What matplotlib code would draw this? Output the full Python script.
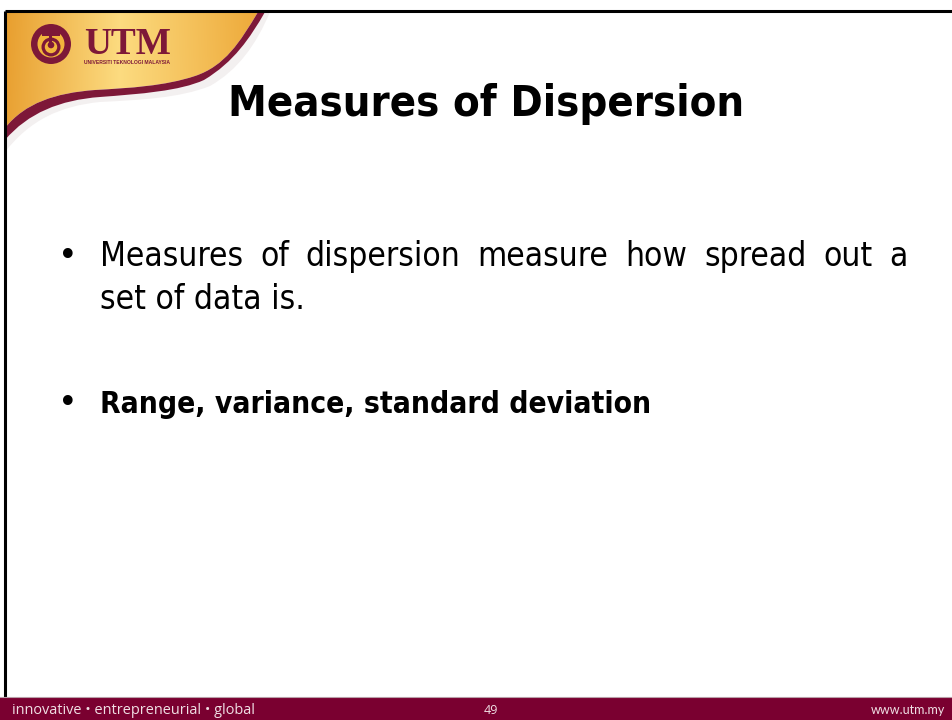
import matplotlib
matplotlib.use("Agg")
import matplotlib.pyplot as plt
import numpy as np
from matplotlib.path import Path
from matplotlib.patches import PathPatch, Rectangle, Circle
from matplotlib import font_manager

# ---- content ----
title = "Measures of Dispersion"
bullet1_lines = ["Measures of dispersion measure how spread out a", "set of data is."]
bullet2 = "Range, variance, standard deviation"
footer_left = "innovative \u2022 entrepreneurial \u2022 global"
footer_mid = "49"
footer_right = "www.utm.my"
logo_text = "UTM"
logo_sub = "UNIVERSITI TEKNOLOGI MALAYSIA"

MAROON = "#7a0030"
LOGO_MAROON = "#7d1838"

cands = [f for f in font_manager.fontManager.ttflist
         if ("narrow" in f.name.lower() or "condensed" in f.name.lower()
             or "narrow" in f.fname.lower() or "condensed" in f.fname.lower())
         and "mono" not in f.name.lower() and "serif" not in f.name.lower()]
if cands:
    c0 = cands[0]
    body_prop = dict(family=c0.name, stretch=c0.stretch)
else:
    body_prop = dict(family="Liberation Sans")

W, H = 953, 720
fig = plt.figure(figsize=(W / 100, H / 100), dpi=100)
ax = fig.add_axes([0, 0, 1, 1])
ax.set_xlim(0, W)
ax.set_ylim(H, 0)
ax.axis("off")
fig.patch.set_facecolor("white")

# ---- gold swoosh with gradient ----
gold_verts = [(5, 12), (258, 12),
              (240, 42), (225, 66), (195, 76),
              (165, 86), (130, 88), (95, 90),
              (55, 93), (25, 103), (5, 128),
              (5, 12)]
gold_codes = [Path.MOVETO, Path.LINETO,
              Path.CURVE4, Path.CURVE4, Path.CURVE4,
              Path.CURVE4, Path.CURVE4, Path.CURVE4,
              Path.CURVE4, Path.CURVE4, Path.CURVE4,
              Path.CLOSEPOLY]
gold_path = Path(gold_verts, gold_codes)
clip = PathPatch(gold_path, facecolor="none", edgecolor="none", transform=ax.transData)
ax.add_patch(clip)

xs = np.linspace(0, 1, 300)
c_left = np.array([0.91, 0.62, 0.18])
c_mid = np.array([0.99, 0.86, 0.50])
c_right = np.array([0.93, 0.66, 0.22])
row = np.where(xs[:, None] < 0.45,
               c_left + (c_mid - c_left) * np.clip(xs[:, None] / 0.45, 0, 1),
               c_mid + (c_right - c_mid) * np.clip((xs[:, None] - 0.45) / 0.55, 0, 1))
ys = np.linspace(0, 1, 150)
img = row[None, :, :] * (1 - 0.05 * ys[:, None, None]) + 0.05 * ys[:, None, None] * np.array([0.98, 0.88, 0.6])
im = ax.imshow(np.clip(img, 0, 1), extent=[5, 260, 135, 12], aspect="auto", zorder=1, interpolation="bilinear")
im.set_clip_path(clip)

# ---- maroon band below swoosh ----
band_verts = [(258, 12),
              (240, 42), (225, 66), (195, 76),
              (165, 86), (130, 88), (95, 90),
              (55, 93), (25, 103), (5, 128),
              (5, 140),
              (28, 113), (60, 100), (100, 97),
              (140, 94), (180, 91), (204, 80),
              (234, 62), (250, 38), (265, 12),
              (258, 12)]
band_codes = [Path.MOVETO] + [Path.CURVE4] * 9 + [Path.LINETO] + [Path.CURVE4] * 9 + [Path.CLOSEPOLY]
ax.add_patch(PathPatch(Path(band_verts, band_codes), facecolor=LOGO_MAROON, edgecolor="none", zorder=2))

# soft shadow under band
shadow_verts = [(5, 140),
                (28, 113), (60, 100), (100, 97),
                (140, 94), (180, 91), (204, 80),
                (234, 62), (250, 38), (265, 12),
                (270, 12),
                (256, 45), (238, 70), (210, 86),
                (180, 98), (140, 100), (100, 102),
                (60, 106), (30, 120), (5, 152), (5, 140)]
shadow_codes = [Path.MOVETO] + [Path.CURVE4] * 9 + [Path.LINETO] + [Path.CURVE4] * 9 + [Path.CLOSEPOLY]
ax.add_patch(PathPatch(Path(shadow_verts, shadow_codes), facecolor="#ece6e6", edgecolor="none", zorder=1.5, alpha=0.6))

# ---- logo emblem ----
cx, cy = 51, 44
ax.add_patch(Circle((cx, cy), 20, facecolor=LOGO_MAROON, edgecolor="none", zorder=3))
ax.add_patch(Circle((cx, cy), 13.5, facecolor="#f2b53c", edgecolor="none", zorder=4))
ax.add_patch(Circle((cx, cy + 3), 9.5, facecolor=LOGO_MAROON, edgecolor="none", zorder=5))
ax.add_patch(Circle((cx, cy + 3), 6.2, facecolor="#f2b53c", edgecolor="none", zorder=6))
ax.add_patch(Circle((cx, cy + 1), 3.3, facecolor=LOGO_MAROON, edgecolor="none", zorder=7))
ax.add_patch(Rectangle((cx - 9, cy - 14.5), 18, 6, facecolor=LOGO_MAROON, edgecolor="none", zorder=7))
ax.add_patch(Rectangle((cx - 1.5, cy - 10), 3, 9, facecolor=LOGO_MAROON, edgecolor="none", zorder=7))

renderer = fig.canvas.get_renderer()

utm = ax.text(84, 54, logo_text, fontsize=28, fontweight="bold", family="Liberation Serif",
              color=LOGO_MAROON, ha="left", va="baseline", zorder=8)
utm.set_fontsize(28 * 87 / utm.get_window_extent(renderer).width)
sub = ax.text(84, 64, logo_sub, fontsize=3.6, fontweight="bold", family="Liberation Sans",
              color=LOGO_MAROON, ha="left", va="baseline", zorder=8)
sub.set_fontsize(3.6 * 86 / sub.get_window_extent(renderer).width)

# ---- slide border ----
ax.plot([5, W], [11, 11], color="black", lw=2.2, zorder=9, solid_capstyle="butt")
ax.plot([5, 5], [11, 697], color="black", lw=2.2, zorder=9, solid_capstyle="butt")

# ---- footer band ----
ax.add_patch(Rectangle((0, 697), W, 23, facecolor=MAROON, edgecolor="none", zorder=10))
ax.plot([0, W], [697, 697], color="#b9a0a8", lw=0.8, zorder=10)
fl = ax.text(12, 710, footer_left, fontsize=8.5, family="Open Sans", color="#f0dfe4",
             ha="left", va="center", zorder=11)
fl.set_fontsize(8.5 * 243 / fl.get_window_extent(renderer).width)
ax.text(491, 710, footer_mid, fontsize=9, family="Open Sans", color="#f0dfe4",
        ha="center", va="center", zorder=11)
ax.text(945, 710, footer_right, fontsize=9, family="Lato", color="#f0dfe4",
        ha="right", va="center", zorder=11)


def fit_text(x, y, s, target_w, weight, base_size, ha="left"):
    tx = ax.text(x, y, s, fontsize=base_size, fontweight=weight, color="black",
                 ha=ha, va="baseline", zorder=12, **body_prop)
    w = tx.get_window_extent(renderer).width
    tx.set_fontsize(base_size * target_w / w)
    return tx

# ---- title ----
fit_text(486.5, 116, title, 517, "bold", 34, ha="center")

# ---- bullet 1 (justified first line) ----
size1 = 24
ax.text(58, 266, "\u2022", fontsize=size1, family="DejaVu Sans", color="black",
        ha="left", va="baseline", zorder=12)
words = bullet1_lines[0].split()
left, right = 100, 908
tmp = [ax.text(0, 0, wd, fontsize=size1, **body_prop) for wd in words]
widths = [tt.get_window_extent(renderer).width for tt in tmp]
for tt in tmp:
    tt.remove()
gap = (right - left - sum(widths)) / (len(words) - 1)
xpos = left
for wd, wdt in zip(words, widths):
    ax.text(xpos, 266, wd, fontsize=size1, color="black",
            ha="left", va="baseline", zorder=12, **body_prop)
    xpos += wdt + gap
ax.text(100, 309, bullet1_lines[1], fontsize=size1, color="black",
        ha="left", va="baseline", zorder=12, **body_prop)

# ---- bullet 2 ----
ax.text(58, 413, "\u2022", fontsize=size1, family="DejaVu Sans", color="black",
        ha="left", va="baseline", zorder=12)
fit_text(100, 413, bullet2, 552, "bold", 24)

fig.savefig("out.png", dpi=100, facecolor="white")
